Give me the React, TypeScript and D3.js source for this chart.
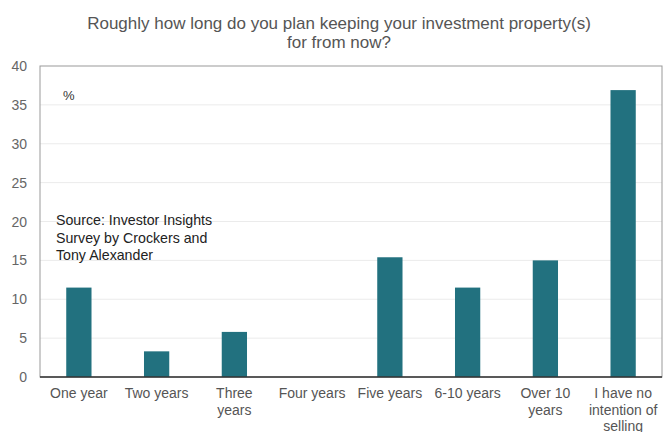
import React from "react";
import * as d3 from "d3";

const categories = [
  ["One year"],
  ["Two years"],
  ["Three", "years"],
  ["Four years"],
  ["Five years"],
  ["6-10 years"],
  ["Over 10", "years"],
  ["I have no", "intention of", "selling"],
];
const values = [11.5, 3.3, 5.8, 0, 15.4, 11.5, 15.0, 36.9];
const yTicks = [0, 5, 10, 15, 20, 25, 30, 35, 40];
const titleLines = [
  "Roughly how long do you plan keeping your investment property(s)",
  "for from now?",
];
const sourceLines = ["Source: Investor Insights", "Survey by Crockers and", "Tony Alexander"];

export default function App() {
  const W = 666, H = 432;
  const left = 40, right = 662, top = 66, bottom = 377;
  const x = d3.scaleBand<number>().domain(d3.range(categories.length)).range([left, right]).paddingInner(0.675).paddingOuter(0.3375);
  const y = d3.scaleLinear().domain([0, 40]).range([bottom, top]);
  const font = "'Liberation Sans', Arial, sans-serif";
  return (
    <svg width={W} height={H} style={{ position: "absolute", left: 0, top: 0, background: "#fff" }} fontFamily={font}>
      {titleLines.map((t, i) => (
        <text key={i} x={339} y={29 + i * 19} textAnchor="middle" fontSize={17} fill="#555">{t}</text>
      ))}
      {yTicks.map((t) => (
        <g key={t}>
          {t > 0 && t < 40 && <line x1={left} x2={right} y1={y(t)} y2={y(t)} stroke="#ebebeb" strokeWidth={1} />}
          <text x={27} y={y(t) + 5} textAnchor="end" fontSize={14} fill="#666">{t}</text>
        </g>
      ))}
      <rect x={left} y={top} width={right - left} height={bottom - top} fill="none" stroke="#999" strokeWidth={1} />
      {values.map((v, i) => (
        <rect key={i} x={x(i)} y={y(v)} width={x.bandwidth()} height={bottom - y(v)} fill="#22717f" />
      ))}
      <line x1={left} x2={right} y1={bottom} y2={bottom} stroke="#333" strokeWidth={1.5} />
      {categories.map((lines, i) => (
        <text key={i} textAnchor="middle" fontSize={14} fill="#555">
          {lines.map((l, j) => (
            <tspan key={j} x={(x(i) as number) + x.bandwidth() / 2} y={398 + j * 16.5}>{l}</tspan>
          ))}
        </text>
      ))}
      <text x={63} y={100} fontSize={13} fill="#333">%</text>
      {sourceLines.map((l, i) => (
        <text key={i} x={56} y={225 + i * 17.5} fontSize={14.2} fill="#222">{l}</text>
      ))}
    </svg>
  );
}
